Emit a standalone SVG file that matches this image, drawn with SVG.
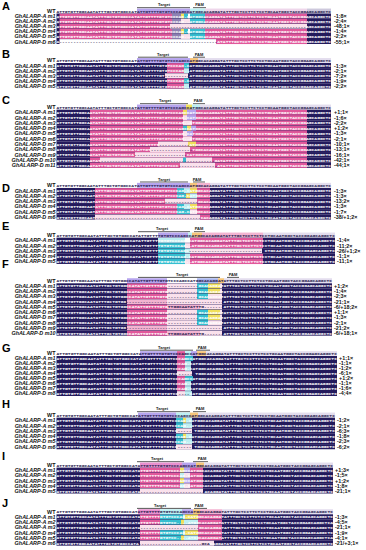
<svg xmlns="http://www.w3.org/2000/svg" width="366" height="550" viewBox="0 0 366 550">
<style>
.n{fill:#231a5c}.p{fill:#e1589b}.dl{fill:#fae1ec}.lp{fill:#f3b3d1}.v{fill:#b6a4ee}.v2{fill:#a9b6ee}.g{fill:#8e82b4}.c{fill:#35bfd0}.lc{fill:#bdeff2}.y{fill:#f1e05b}.pe{fill:#f6c57a}.wb{fill:#e3ddee}.wp{fill:#eed6ea}.wg{fill:#cdc8dc}.m{fill:#e98fcf}.w{fill:#fff}
.s{font-family:"Liberation Mono","DejaVu Sans Mono",monospace;font-weight:bold;font-size:4.3px;fill:#fff}
.k{fill:#2a2250}
.lb{font-family:"Liberation Sans",Arial,sans-serif;font-style:italic;font-weight:bold;font-size:5.4px;text-anchor:end;fill:#111}
.wt{font-family:"Liberation Sans",Arial,sans-serif;font-weight:bold;font-size:5.4px;text-anchor:end;fill:#111}
.r{font-family:"Liberation Sans",Arial,sans-serif;font-weight:bold;font-size:5.4px;fill:#111}
.pl{font-family:"Liberation Sans",Arial,sans-serif;font-weight:bold;font-size:11px;fill:#000}
.t{font-family:"Liberation Sans",Arial,sans-serif;font-weight:bold;font-size:4px;text-anchor:middle;fill:#222}
.ln{stroke:#444;stroke-width:0.9;fill:none}
</style>
<rect width="366" height="550" fill="#fff"/>

<g id="connectors">
<line class="ln" x1="137" y1="7.7" x2="190" y2="7.7"/><line class="ln" x1="193" y1="7.7" x2="206" y2="7.7"/>
<line class="ln" x1="138" y1="57.2" x2="188" y2="57.2"/><line class="ln" x1="193" y1="57.2" x2="205" y2="57.2"/>
<line class="ln" x1="140" y1="103.7" x2="188" y2="103.7"/><line class="ln" x1="193" y1="103.7" x2="205" y2="103.7"/>
<line class="ln" x1="140" y1="182" x2="188" y2="182"/><line class="ln" x1="193" y1="182" x2="205" y2="182"/>
<line class="ln" x1="138" y1="231.7" x2="190" y2="231.7"/><line class="ln" x1="194" y1="231.7" x2="205" y2="231.7"/>
<line class="ln" x1="138" y1="277.4" x2="220" y2="277.4"/><line class="ln" x1="227" y1="277.4" x2="239" y2="277.4"/>
<line class="ln" x1="140" y1="350.2" x2="193" y2="350.2"/><line class="ln" x1="196" y1="350.2" x2="210" y2="350.2"/>
<line class="ln" x1="137" y1="411.7" x2="190" y2="411.7"/><line class="ln" x1="193" y1="411.7" x2="206" y2="411.7"/>
<line class="ln" x1="137" y1="461.7" x2="184" y2="461.7"/><line class="ln" x1="193" y1="461.7" x2="208" y2="461.7"/>
<line class="ln" x1="137" y1="508.4" x2="191" y2="508.4"/><line class="ln" x1="194" y1="508.4" x2="207" y2="508.4"/>
</g>

<g id="labels-target">
<text class="t" x="164" y="6.4">Target</text><text class="t" x="199.5" y="6.4">PAM</text>
<text class="t" x="163" y="55.9">Target</text><text class="t" x="199" y="55.9">PAM</text>
<text class="t" x="165" y="102.4">Target</text><text class="t" x="198" y="102.4">PAM</text>
<text class="t" x="164" y="180.7">Target</text><text class="t" x="197" y="180.7">PAM</text>
<text class="t" x="162" y="230.4">Target</text><text class="t" x="199" y="230.4">PAM</text>
<text class="t" x="182" y="276.1">Target</text><text class="t" x="233" y="276.1">PAM</text>
<text class="t" x="164" y="348.9">Target</text><text class="t" x="202" y="348.9">PAM</text>
<text class="t" x="162" y="410.4">Target</text><text class="t" x="200" y="410.4">PAM</text>
<text class="t" x="157" y="460.4">Target</text><text class="t" x="202" y="460.4">PAM</text>
<text class="t" x="160" y="507.1">Target</text><text class="t" x="199" y="507.1">PAM</text>
</g>

<!-- Panel A -->
<g id="panelA">
<text class="pl" x="2" y="9.5">A</text>
<g id="A-WT"><text class="wt" x="55.5" y="12.9">WT</text>
<rect class="v" x="137" y="8.55" width="53" height="4.9"/><rect class="lc" x="190" y="8.55" width="15" height="4.9"/><rect class="wp" x="205" y="8.55" width="102" height="4.9"/><rect class="wg" x="307" y="8.55" width="24" height="4.9"/>
<text class="s k" x="56.5" y="12.5" textLength="274.5" lengthAdjust="spacingAndGlyphs">ATTGTGTTGGCAATATTTGCTGTGGCCATATTGTTTTGTGTCCCAGCCATGGCACAGGATATTTGCTCCTTCTCCTGCAATGGCTACCGGAGCAGGCTC</text></g>
<g id="A-m1"><text class="lb" x="55.5" y="18">GhALARP-A m1</text><rect class="n" x="56.5" y="13.5" width="274.5" height="5.2"/>
<rect class="p" x="59.5" y="13.65" width="112.5" height="4.9"/><rect class="g" x="172" y="13.65" width="9" height="4.9"/><rect class="y" x="181" y="13.65" width="3" height="4.9"/><rect class="c" x="184" y="13.65" width="4" height="4.9"/><rect class="w" x="188" y="13.65" width="2" height="4.9"/><rect class="c" x="190" y="13.65" width="15" height="4.9"/><rect class="p" x="205" y="13.65" width="102" height="4.9"/>
<text class="s" x="56.5" y="17.6" textLength="274.5" lengthAdjust="spacingAndGlyphs">ATTGTGTTGGCAATATTTGCTGTGGCCATATTGTTTTGTGTCCCAG-CATGGCACAGGATATTTGCTCCTTCTCCTGCAATGGCTACCGGAGCAGGCTC</text>
<text class="r" x="334" y="18">-1;8×</text></g>
<g id="A-m2"><text class="lb" x="55.5" y="23.1">GhALARP-A m2</text><rect class="n" x="56.5" y="18.6" width="274.5" height="5.2"/>
<rect class="p" x="59.5" y="18.75" width="112.5" height="4.9"/><rect class="g" x="172" y="18.75" width="9" height="4.9"/><rect class="dl" x="181" y="18.75" width="9" height="4.9"/><rect class="c" x="190" y="18.75" width="15" height="4.9"/><rect class="p" x="205" y="18.75" width="102" height="4.9"/>
<text class="s" x="56.5" y="22.7" textLength="274.5" lengthAdjust="spacingAndGlyphs">ATTGTGTTGGCAATATTTGCTGTGGCCATATTGTTTTGTGTCCCAG--ATGGCACAGGATATTTGCTCCTTCTCCTGCAATGGCTACCGGAGCAGGCTC</text>
<text class="r" x="334" y="23.1">-2;4×</text></g>
<g id="A-m3"><text class="lb" x="55.5" y="28.2">GhALARP-A m3</text><rect class="n" x="56.5" y="23.7" width="274.5" height="5.2"/>
<rect class="p" x="59.5" y="23.85" width="110.5" height="4.9"/><rect class="dl" x="170" y="23.85" width="137" height="4.9"/>
<text class="s" x="56.5" y="27.8" textLength="274.5" lengthAdjust="spacingAndGlyphs">ATTGTGTTGGCAATATTTGCTGTGGCCATATTGTTTTGTGT<tspan class="k">-------------------------------------------------</tspan>AGCAGGCTC</text>
<text class="r" x="334" y="28.2">-48;1×</text></g>
<g id="A-m4"><text class="lb" x="55.5" y="33.3">GhALARP-D m4</text><rect class="n" x="56.5" y="28.8" width="274.5" height="5.2"/>
<rect class="p" x="59.5" y="28.95" width="112.5" height="4.9"/><rect class="g" x="172" y="28.95" width="9" height="4.9"/><rect class="y" x="181" y="28.95" width="3" height="4.9"/><rect class="c" x="184" y="28.95" width="4" height="4.9"/><rect class="w" x="188" y="28.95" width="2" height="4.9"/><rect class="c" x="190" y="28.95" width="15" height="4.9"/><rect class="p" x="205" y="28.95" width="102" height="4.9"/>
<text class="s" x="56.5" y="32.9" textLength="274.5" lengthAdjust="spacingAndGlyphs">ATTGTGTTGGCAATATTTGCTGTGGCCATATTGTTTTGTGTCCCAG-CATGGCACAGGATATTTGCTCCTTCTCCTGCAATGGCTACCGGAGCAGGCTC</text>
<text class="r" x="334" y="33.3">-1;4×</text></g>
<g id="A-m5"><text class="lb" x="55.5" y="38.4">GhALARP-D m5</text><rect class="n" x="56.5" y="33.9" width="274.5" height="5.2"/>
<rect class="p" x="59.5" y="34.05" width="112.5" height="4.9"/><rect class="g" x="172" y="34.05" width="9" height="4.9"/><rect class="dl" x="181" y="34.05" width="9" height="4.9"/><rect class="c" x="190" y="34.05" width="15" height="4.9"/><rect class="p" x="205" y="34.05" width="102" height="4.9"/>
<text class="s" x="56.5" y="38" textLength="274.5" lengthAdjust="spacingAndGlyphs">ATTGTGTTGGCAATATTTGCTGTGGCCATATTGTTTTGTGTCCCAG--ATGGCACAGGATATTTGCTCCTTCTCCTGCAATGGCTACCGGAGCAGGCTC</text>
<text class="r" x="334" y="38.4">-2;2×</text></g>
<g id="A-m6"><text class="lb" x="55.5" y="43.5">GhALARP-D m6</text><rect class="n" x="56.5" y="39" width="274.5" height="5"/>
<rect class="w" x="59.5" y="39.15" width="156.5" height="4.9"/><rect class="p" x="216" y="39.15" width="91" height="4.9"/>
<text class="s" x="56.5" y="43.1" textLength="274.5" lengthAdjust="spacingAndGlyphs">A<tspan class="k">---------------------------------------------------------</tspan>ATATTTGCTCCTTCTCCTGCAATGGCTACCGGAGCAGGCTC</text>
<text class="r" x="334" y="43.5">-55;1×</text></g>
</g>

<!-- Panel B -->
<g id="panelB">
<text class="pl" x="2" y="57.5">B</text>
<g id="B-WT"><text class="wt" x="55.5" y="62.4">WT</text>
<rect class="v" x="137" y="58.05" width="53" height="4.9"/><rect class="pe" x="190" y="58.05" width="8" height="4.9"/><rect class="wb" x="198" y="58.05" width="133" height="4.9"/>
<text class="s k" x="56.5" y="62" textLength="274.5" lengthAdjust="spacingAndGlyphs">ATTGTGTTGGCAATATTTGCTGTGGCCATATTGTTTTGTGTCCCAGCCATGGCACAGGATATTTGCTCCTTCTCCTGCAATGGCTACCGGAGCAGGCTC</text></g>
<g id="B-m1"><text class="lb" x="55.5" y="67.5">GhALARP-A m1</text><rect class="n" x="56.5" y="63" width="274.5" height="5.2"/>
<rect class="p" x="167" y="63.15" width="17" height="4.9"/><rect class="c" x="184" y="63.15" width="5" height="4.9"/>
<text class="s" x="56.5" y="67.1" textLength="274.5" lengthAdjust="spacingAndGlyphs">ATTGTGTTGGCAATATTTGCTGTGGCCATATTGTTTTGTGTCCCAG-CATGGCACAGGATATTTGCTCCTTCTCCTGCAATGGCTACCGGAGCAGGCTC</text>
<text class="r" x="334" y="67.5">-1;3×</text></g>
<g id="B-m2"><text class="lb" x="55.5" y="72.6">GhALARP-A m2</text><rect class="n" x="56.5" y="68.1" width="274.5" height="5.2"/>
<rect class="p" x="167" y="68.25" width="17" height="4.9"/><rect class="lc" x="184" y="68.25" width="5" height="4.9"/>
<text class="s" x="56.5" y="72.2" textLength="274.5" lengthAdjust="spacingAndGlyphs">ATTGTGTTGGCAATATTTGCTGTGGCCATATTGTTTTGTGTCCCAG--ATGGCACAGGATATTTGCTCCTTCTCCTGCAATGGCTACCGGAGCAGGCTC</text>
<text class="r" x="334" y="72.6">-2;1×</text></g>
<g id="B-m3"><text class="lb" x="55.5" y="77.7">GhALARP-A m3</text><rect class="n" x="56.5" y="73.2" width="274.5" height="5.2"/>
<rect class="dl" x="165" y="73.35" width="23" height="4.9"/>
<text class="s" x="56.5" y="77.3" textLength="274.5" lengthAdjust="spacingAndGlyphs">ATTGTGTTGGCAATATTTGCTGTGGCCATATTGTTTTGT<tspan class="k">---------</tspan>ATGGCACAGGATATTTGCTCCTTCTCCTGCAATGGCTACCGGAGCAGGCTC</text>
<text class="r" x="334" y="77.7">-7;2×</text></g>
<g id="B-m4"><text class="lb" x="55.5" y="82.8">GhALARP-D m4</text><rect class="n" x="56.5" y="78.3" width="274.5" height="5.2"/>
<rect class="p" x="167" y="78.45" width="17" height="4.9"/><rect class="c" x="184" y="78.45" width="5" height="4.9"/>
<text class="s" x="56.5" y="82.4" textLength="274.5" lengthAdjust="spacingAndGlyphs">ATTGTGTTGGCAATATTTGCTGTGGCCATATTGTTTTGTGTCCCAG-CATGGCACAGGATATTTGCTCCTTCTCCTGCAATGGCTACCGGAGCAGGCTC</text>
<text class="r" x="334" y="82.8">-1;9×</text></g>
<g id="B-m5"><text class="lb" x="55.5" y="87.9">GhALARP-D m5</text><rect class="n" x="56.5" y="83.4" width="274.5" height="5.1"/>
<rect class="p" x="167" y="83.55" width="17" height="4.9"/><rect class="lc" x="184" y="83.55" width="5" height="4.9"/>
<text class="s" x="56.5" y="87.5" textLength="274.5" lengthAdjust="spacingAndGlyphs">ATTGTGTTGGCAATATTTGCTGTGGCCATATTGTTTTGTGTCCCAG--ATGGCACAGGATATTTGCTCCTTCTCCTGCAATGGCTACCGGAGCAGGCTC</text>
<text class="r" x="334" y="87.9">-2;2×</text></g>
</g>

<!-- Panel C -->
<g id="panelC">
<text class="pl" x="2" y="103.5">C</text>
<g id="C-WT"><text class="wt" x="55.5" y="108.9">WT</text>
<rect class="v" x="137" y="104.55" width="49" height="4.9"/><rect class="y" x="186" y="104.55" width="6" height="4.9"/><rect class="lc" x="192" y="104.55" width="8" height="4.9"/><rect class="wb" x="200" y="104.55" width="131" height="4.9"/>
<text class="s k" x="56.5" y="108.5" textLength="274.5" lengthAdjust="spacingAndGlyphs">ATTGTGTTGGCAATATTTGCTGTGGCCATATTGTTTTGTGTCCCAGCCATGGCACAGGATATTTGCTCCTTCTCCTGCAATGGCTACCGGAGCAGGCTC</text></g>
<g id="C-m1"><text class="lb" x="55.5" y="114.2">GhALARP-A m1</text><rect class="n" x="56.5" y="109.65" width="274.5" height="5.4"/>
<rect class="p" x="90" y="109.85" width="217" height="5"/><rect class="y" x="183" y="109.85" width="4" height="5"/><rect class="v" x="187" y="109.85" width="9" height="5"/>
<text class="s" x="56.5" y="113.8" textLength="274.5" lengthAdjust="spacingAndGlyphs">ATTGTGTTGGCAATATTTGCTGTGGCCATATTGTTTTGTGTCCCAGCCATGGCACAGGATATTTGCTCCTTCTCCTGCAATGGCTACCGGAGCAGGCTC</text>
<text class="r" x="334" y="114.2">+1;1×</text></g>
<g id="C-m2"><text class="lb" x="55.5" y="119.5">GhALARP-A m2</text><rect class="n" x="56.5" y="114.95" width="274.5" height="5.4"/>
<rect class="p" x="90" y="115.15" width="217" height="5"/><rect class="dl" x="183" y="115.15" width="4" height="5"/><rect class="v" x="187" y="115.15" width="9" height="5"/>
<text class="s" x="56.5" y="119.1" textLength="274.5" lengthAdjust="spacingAndGlyphs">ATTGTGTTGGCAATATTTGCTGTGGCCATATTGTTTTGTGTCCCAG-CATGGCACAGGATATTTGCTCCTTCTCCTGCAATGGCTACCGGAGCAGGCTC</text>
<text class="r" x="334" y="119.5">-1;6×</text></g>
<g id="C-m3"><text class="lb" x="55.5" y="124.8">GhALARP-A m3</text><rect class="n" x="56.5" y="120.25" width="274.5" height="5.4"/>
<rect class="p" x="90" y="120.45" width="217" height="5"/><rect class="dl" x="183" y="120.45" width="9" height="5"/>
<text class="s" x="56.5" y="124.4" textLength="274.5" lengthAdjust="spacingAndGlyphs">ATTGTGTTGGCAATATTTGCTGTGGCCATATTGTTTTGTGTCCCAG--ATGGCACAGGATATTTGCTCCTTCTCCTGCAATGGCTACCGGAGCAGGCTC</text>
<text class="r" x="334" y="124.8">-2;2×</text></g>
<g id="C-m4"><text class="lb" x="55.5" y="130.1">GhALARP-D m4</text><rect class="n" x="56.5" y="125.55" width="274.5" height="5.4"/>
<rect class="p" x="90" y="125.75" width="217" height="5"/><rect class="c" x="183" y="125.75" width="4" height="5"/><rect class="y" x="187" y="125.75" width="4" height="5"/><rect class="v" x="191" y="125.75" width="5" height="5"/>
<text class="s" x="56.5" y="129.7" textLength="274.5" lengthAdjust="spacingAndGlyphs">ATTGTGTTGGCAATATTTGCTGTGGCCATATTGTTTTGTGTCCCAGCCATGGCACAGGATATTTGCTCCTTCTCCTGCAATGGCTACCGGAGCAGGCTC</text>
<text class="r" x="334" y="130.1">+1;2×</text></g>
<g id="C-m5"><text class="lb" x="55.5" y="135.4">GhALARP-D m5</text><rect class="n" x="56.5" y="130.85" width="274.5" height="5.4"/>
<rect class="p" x="90" y="131.05" width="217" height="5"/><rect class="dl" x="183" y="131.05" width="4" height="5"/><rect class="v" x="187" y="131.05" width="6" height="5"/>
<text class="s" x="56.5" y="135" textLength="274.5" lengthAdjust="spacingAndGlyphs">ATTGTGTTGGCAATATTTGCTGTGGCCATATTGTTTTGTGTCCCAG-CATGGCACAGGATATTTGCTCCTTCTCCTGCAATGGCTACCGGAGCAGGCTC</text>
<text class="r" x="334" y="135.4">-1;3×</text></g>
<g id="C-m6"><text class="lb" x="55.5" y="140.7">GhALARP-D m6</text><rect class="n" x="56.5" y="136.15" width="274.5" height="5.4"/>
<rect class="p" x="90" y="136.35" width="217" height="5"/><rect class="dl" x="183" y="136.35" width="9" height="5"/>
<text class="s" x="56.5" y="140.3" textLength="274.5" lengthAdjust="spacingAndGlyphs">ATTGTGTTGGCAATATTTGCTGTGGCCATATTGTTTTGTGTCCCAG--ATGGCACAGGATATTTGCTCCTTCTCCTGCAATGGCTACCGGAGCAGGCTC</text>
<text class="r" x="334" y="140.7">-2;1×</text></g>
<g id="C-m7"><text class="lb" x="55.5" y="146">GhALARP-D m7</text><rect class="n" x="56.5" y="141.45" width="274.5" height="5.4"/>
<rect class="p" x="90" y="141.65" width="217" height="5"/><rect class="dl" x="158" y="141.65" width="30" height="5"/><rect class="y" x="188" y="141.65" width="8" height="5"/>
<text class="s" x="56.5" y="145.6" textLength="274.5" lengthAdjust="spacingAndGlyphs">ATTGTGTTGGCAATATTTGCTGTGGCCATATTGTTTT<tspan class="k">-----------</tspan>ATGGCACAGGATATTTGCTCCTTCTCCTGCAATGGCTACCGGAGCAGGCTC</text>
<text class="r" x="334" y="146">-10;1×</text></g>
<g id="C-m8"><text class="lb" x="55.5" y="151.3">GhALARP-D m8</text><rect class="n" x="56.5" y="146.75" width="274.5" height="5.4"/>
<rect class="p" x="90" y="146.95" width="217" height="5"/><rect class="dl" x="150" y="146.95" width="40" height="5"/>
<text class="s" x="56.5" y="150.9" textLength="274.5" lengthAdjust="spacingAndGlyphs">ATTGTGTTGGCAATATTTGCTGTGGCCATATTGT<tspan class="k">---------------</tspan>TGGCACAGGATATTTGCTCCTTCTCCTGCAATGGCTACCGGAGCAGGCTC</text>
<text class="r" x="334" y="151.3">-13;1×</text></g>
<g id="C-m9"><text class="lb" x="55.5" y="156.6">GhALARP-D m9</text><rect class="n" x="56.5" y="152.05" width="274.5" height="5.4"/>
<rect class="p" x="90" y="152.25" width="217" height="5"/><rect class="dl" x="135" y="152.25" width="50" height="5"/>
<text class="s" x="56.5" y="156.2" textLength="274.5" lengthAdjust="spacingAndGlyphs">ATTGTGTTGGCAATATTTGCTGTGGCCA<tspan class="k">-------------------</tspan>CATGGCACAGGATATTTGCTCCTTCTCCTGCAATGGCTACCGGAGCAGGCTC</text>
<text class="r" x="334" y="156.6">-16;1×</text></g>
<g id="C-m10"><text class="lb" x="55.5" y="161.9">GhALARP-D m10</text><rect class="n" x="56.5" y="157.35" width="274.5" height="5.4"/>
<rect class="p" x="90" y="157.55" width="217" height="5"/><rect class="dl" x="100" y="157.55" width="112" height="5"/><rect class="c" x="183" y="157.55" width="3" height="5"/>
<text class="s" x="56.5" y="161.5" textLength="274.5" lengthAdjust="spacingAndGlyphs">ATTGTGTTGGCAATAT<tspan class="k">-----------------------------------------</tspan>GATATTTGCTCCTTCTCCTGCAATGGCTACCGGAGCAGGCTC</text>
<text class="r" x="334" y="161.9">-42;1×</text></g>
<g id="C-m11"><text class="lb" x="55.5" y="167.2">GhALARP-D m11</text><rect class="n" x="56.5" y="162.65" width="274.5" height="5.2"/>
<rect class="p" x="90" y="162.85" width="217" height="5"/><rect class="dl" x="180" y="162.85" width="35" height="5"/>
<text class="s" x="56.5" y="166.8" textLength="274.5" lengthAdjust="spacingAndGlyphs">ATTGTGTTGGCAATATTTGCTGTGGCCATATTGTTTTGTGTCCC<tspan class="k">--------------</tspan>ATATTTGCTCCTTCTCCTGCAATGGCTACCGGAGCAGGCTC</text>
<text class="r" x="334" y="167.2">-44;1×</text></g>
</g>

<!-- Panel D -->
<g id="panelD">
<text class="pl" x="2" y="192">D</text>
<g id="D-WT"><text class="wt" x="55.5" y="187.2">WT</text>
<rect class="v" x="137" y="182.85" width="53" height="4.9"/><rect class="pe" x="190" y="182.85" width="7" height="4.9"/><rect class="lp" x="197" y="182.85" width="13" height="4.9"/><rect class="wb" x="210" y="182.85" width="121" height="4.9"/>
<text class="s k" x="56.5" y="186.8" textLength="274.5" lengthAdjust="spacingAndGlyphs">ATTGTGTTGGCAATATTTGCTGTGGCCATATTGTTTTGTGTCCCAGCCATGGCACAGGATATTTGCTCCTTCTCCTGCAATGGCTACCGGAGCAGGCTC</text></g>
<g id="D-m1"><text class="lb" x="55.5" y="192.5">GhALARP-A m1</text><rect class="n" x="56.5" y="187.95" width="274.5" height="5.4"/>
<rect class="p" x="95" y="188.15" width="115" height="5"/><rect class="c" x="177" y="188.15" width="7" height="5"/><rect class="lc" x="184" y="188.15" width="6" height="5"/><rect class="y" x="190" y="188.15" width="7" height="5"/>
<text class="s" x="56.5" y="192.1" textLength="274.5" lengthAdjust="spacingAndGlyphs">ATTGTGTTGGCAATATTTGCTGTGGCCATATTGTTTTGTGTCCCAG-CATGGCACAGGATATTTGCTCCTTCTCCTGCAATGGCTACCGGAGCAGGCTC</text>
<text class="r" x="334" y="192.5">-1;3×</text></g>
<g id="D-m2"><text class="lb" x="55.5" y="197.8">GhALARP-A m2</text><rect class="n" x="56.5" y="193.25" width="274.5" height="5.4"/>
<rect class="p" x="95" y="193.45" width="115" height="5"/><rect class="c" x="177" y="193.45" width="9" height="5"/><rect class="y" x="186" y="193.45" width="4" height="5"/><rect class="lc" x="190" y="193.45" width="7" height="5"/>
<text class="s" x="56.5" y="197.4" textLength="274.5" lengthAdjust="spacingAndGlyphs">ATTGTGTTGGCAATATTTGCTGTGGCCATATTGTTTTGTGTCCCAG-CATGGCACAGGATATTTGCTCCTTCTCCTGCAATGGCTACCGGAGCAGGCTC</text>
<text class="r" x="334" y="197.8">-1;3×</text></g>
<g id="D-m3"><text class="lb" x="55.5" y="203.1">GhALARP-A m3</text><rect class="n" x="56.5" y="198.55" width="274.5" height="5.4"/>
<rect class="p" x="95" y="198.75" width="70" height="5"/><rect class="dl" x="165" y="198.75" width="32" height="5"/><rect class="p" x="197" y="198.75" width="13" height="5"/>
<text class="s" x="56.5" y="202.7" textLength="274.5" lengthAdjust="spacingAndGlyphs">ATTGTGTTGGCAATATTTGCTGTGGCCATATTGTTTTGT<tspan class="k">------------</tspan>GCACAGGATATTTGCTCCTTCTCCTGCAATGGCTACCGGAGCAGGCTC</text>
<text class="r" x="334" y="203.1">-13;2×</text></g>
<g id="D-m4"><text class="lb" x="55.5" y="208.4">GhALARP-D m4</text><rect class="n" x="56.5" y="203.85" width="274.5" height="5.4"/>
<rect class="p" x="95" y="204.05" width="115" height="5"/><rect class="c" x="177" y="204.05" width="7" height="5"/><rect class="lc" x="184" y="204.05" width="6" height="5"/><rect class="y" x="190" y="204.05" width="7" height="5"/>
<text class="s" x="56.5" y="208" textLength="274.5" lengthAdjust="spacingAndGlyphs">ATTGTGTTGGCAATATTTGCTGTGGCCATATTGTTTTGTGTCCCAG-CATGGCACAGGATATTTGCTCCTTCTCCTGCAATGGCTACCGGAGCAGGCTC</text>
<text class="r" x="334" y="208.4">-1;3×</text></g>
<g id="D-m5"><text class="lb" x="55.5" y="213.7">GhALARP-D m5</text><rect class="n" x="56.5" y="209.15" width="274.5" height="5.4"/>
<rect class="p" x="95" y="209.35" width="115" height="5"/><rect class="c" x="177" y="209.35" width="13" height="5"/><rect class="dl" x="190" y="209.35" width="7" height="5"/>
<text class="s" x="56.5" y="213.3" textLength="274.5" lengthAdjust="spacingAndGlyphs">ATTGTGTTGGCAATATTTGCTGTGGCCATATTGTTTTGTGTCCCAG-CATGGCACAGGATATTTGCTCCTTCTCCTGCAATGGCTACCGGAGCAGGCTC</text>
<text class="r" x="334" y="213.7">-1;7×</text></g>
<g id="D-m6"><text class="lb" x="55.5" y="219">GhALARP-D m6</text><rect class="n" x="56.5" y="214.45" width="274.5" height="5.1"/>
<rect class="dl" x="95" y="214.65" width="105" height="5"/><rect class="p" x="200" y="214.65" width="10" height="5"/>
<text class="s" x="56.5" y="218.6" textLength="274.5" lengthAdjust="spacingAndGlyphs">ATTGTGTTGGCAAT<tspan class="k">--------------------------------------</tspan>CACAGGATATTTGCTCCTTCTCCTGCAATGGCTACCGGAGCAGGCTC</text>
<text class="r" x="334" y="219">-38/+1;2×</text></g>
</g>

<!-- Panel E -->
<g id="panelE">
<text class="pl" x="2" y="230">E</text>
<g id="E-WT"><text class="wt" x="55.5" y="236.9">WT</text>
<rect class="v" x="158" y="232.55" width="30" height="4.9"/><rect class="lc" x="188" y="232.55" width="4" height="4.9"/><rect class="pe" x="192" y="232.55" width="10" height="4.9"/><rect class="lp" x="202" y="232.55" width="61" height="4.9"/><rect class="wb" x="263" y="232.55" width="72" height="4.9"/>
<text class="s k" x="56.5" y="236.5" textLength="278.5" lengthAdjust="spacingAndGlyphs">ATTGTGTTGGCAATATTTGCTGTGGCCATATTGTTTTGTGTCCCAGCCATGGCACAGGATATTTGCTCCTTCTCCTGCAATGGCTACCGGAGCAGGCTC</text></g>
<g id="E-m1"><text class="lb" x="55.5" y="242.2">GhALARP-A m1</text><rect class="n" x="56.5" y="237.65" width="278.5" height="5.4"/>
<rect class="lc" x="158" y="237.85" width="27" height="5"/><rect class="w" x="185" y="237.85" width="5" height="5"/><rect class="p" x="190" y="237.85" width="73" height="5"/>
<text class="s" x="56.5" y="241.8" textLength="278.5" lengthAdjust="spacingAndGlyphs">ATTGTGTTGGCAATATTTGCTGTGGCCATATTGTTTTGTGTCCCAG-CATGGCACAGGATATTTGCTCCTTCTCCTGCAATGGCTACCGGAGCAGGCTC</text>
<text class="r" x="337" y="242.2">-1;4×</text></g>
<g id="E-m2"><text class="lb" x="55.5" y="247.5">GhALARP-A m2</text><rect class="n" x="56.5" y="242.95" width="278.5" height="5.4"/>
<rect class="c" x="158" y="243.15" width="27" height="5"/><rect class="dl" x="185" y="243.15" width="5" height="5"/><rect class="p" x="190" y="243.15" width="73" height="5"/>
<text class="s" x="56.5" y="247.1" textLength="278.5" lengthAdjust="spacingAndGlyphs">ATTGTGTTGGCAATATTTGCTGTGGCCATATTGTTTTGTGTCCCAG--ATGGCACAGGATATTTGCTCCTTCTCCTGCAATGGCTACCGGAGCAGGCTC</text>
<text class="r" x="337" y="247.5">-11;2×</text></g>
<g id="E-m3"><text class="lb" x="55.5" y="252.8">GhALARP-A m3</text><rect class="n" x="56.5" y="248.25" width="278.5" height="5.4"/>
<rect class="c" x="158" y="248.45" width="27" height="5"/><rect class="lc" x="185" y="248.45" width="5" height="5"/><rect class="dl" x="190" y="248.45" width="72" height="5"/>
<text class="s" x="56.5" y="252.4" textLength="278.5" lengthAdjust="spacingAndGlyphs">ATTGTGTTGGCAATATTTGCTGTGGCCATATTGTTTTGTGTCCCAGC<tspan class="k">---------------------------</tspan>CTGCAATGGCTACCGGAGCAGGCTC</text>
<text class="r" x="337" y="252.8">-26/+1;2×</text></g>
<g id="E-m4"><text class="lb" x="55.5" y="258.1">GhALARP-D m4</text><rect class="n" x="56.5" y="253.55" width="278.5" height="5.4"/>
<rect class="c" x="158" y="253.75" width="27" height="5"/><rect class="lc" x="185" y="253.75" width="5" height="5"/><rect class="p" x="190" y="253.75" width="73" height="5"/>
<text class="s" x="56.5" y="257.7" textLength="278.5" lengthAdjust="spacingAndGlyphs">ATTGTGTTGGCAATATTTGCTGTGGCCATATTGTTTTGTGTCCCAG-CATGGCACAGGATATTTGCTCCTTCTCCTGCAATGGCTACCGGAGCAGGCTC</text>
<text class="r" x="337" y="258.1">-1;1×</text></g>
<g id="E-m5"><text class="lb" x="55.5" y="263.4">GhALARP-D m5</text><rect class="n" x="56.5" y="258.85" width="278.5" height="5.1"/>
<rect class="c" x="158" y="259.05" width="27" height="5"/><rect class="dl" x="185" y="259.05" width="5" height="5"/><rect class="p" x="190" y="259.05" width="73" height="5"/>
<text class="s" x="56.5" y="263" textLength="278.5" lengthAdjust="spacingAndGlyphs">ATTGTGTTGGCAATATTTGCTGTGGCCATATTGTTTTGTGTCCCAG--ATGGCACAGGATATTTGCTCCTTCTCCTGCAATGGCTACCGGAGCAGGCTC</text>
<text class="r" x="337" y="263.4">-11;1×</text></g>
</g>

<!-- Panel F -->
<g id="panelF">
<text class="pl" x="2" y="268">F</text>
<g id="F-WT"><text class="wt" x="55.5" y="282.6">WT</text>
<rect class="v" x="127" y="278.25" width="40" height="4.9"/><rect class="v2" x="197" y="278.25" width="21" height="4.9"/><rect class="pe" x="218" y="278.25" width="6" height="4.9"/><rect class="wb" x="224" y="278.25" width="108" height="4.9"/>
<text class="s k" x="56.5" y="282.2" textLength="275.5" lengthAdjust="spacingAndGlyphs">ATTGTGTTGGCAATATTTGCTGTGGCCATATTGTTTTGTGTCCCAGCCATGGCACAGGATATTTGCTCCTTCTCCTGCAATGGCTACCGGAGCAGGCTC</text></g>
<g id="F-m1"><text class="lb" x="55.5" y="287.85">GhALARP-A m1</text><rect class="n" x="56.5" y="283.3" width="275.5" height="5.35"/>
<rect class="p" x="127" y="283.5" width="40" height="4.95"/><rect class="dl" x="167" y="283.5" width="30" height="4.95"/><rect class="c" x="197" y="283.5" width="11" height="4.95"/><rect class="y" x="208" y="283.5" width="12" height="4.95"/><rect class="dl" x="220" y="283.5" width="2" height="4.95"/>
<text class="s" x="56.5" y="287.45" textLength="275.5" lengthAdjust="spacingAndGlyphs">ATTGTGTTGGCAATATTTGCTGTGGCCATATTGTTTTGTG<tspan class="k">-----------</tspan>GCACAGGATATTTGCTCCTTCTCCTGCAATGGCTACCGGAGCAGGCTC</text>
<text class="r" x="334" y="287.85">+1;2×</text></g>
<g id="F-m2"><text class="lb" x="55.5" y="293.1">GhALARP-A m2</text><rect class="n" x="56.5" y="288.55" width="275.5" height="5.35"/>
<rect class="p" x="127" y="288.75" width="40" height="4.95"/><rect class="dl" x="167" y="288.75" width="30" height="4.95"/><rect class="c" x="197" y="288.75" width="11" height="4.95"/><rect class="y" x="208" y="288.75" width="12" height="4.95"/><rect class="dl" x="220" y="288.75" width="2" height="4.95"/>
<text class="s" x="56.5" y="292.7" textLength="275.5" lengthAdjust="spacingAndGlyphs">ATTGTGTTGGCAATATTTGCTGTGGCCATATTGTTTTGTG<tspan class="k">-----------</tspan>GCACAGGATATTTGCTCCTTCTCCTGCAATGGCTACCGGAGCAGGCTC</text>
<text class="r" x="334" y="293.1">-1;4×</text></g>
<g id="F-m3"><text class="lb" x="55.5" y="298.35">GhALARP-A m3</text><rect class="n" x="56.5" y="293.8" width="275.5" height="5.35"/>
<rect class="p" x="127" y="294" width="40" height="4.95"/><rect class="dl" x="167" y="294" width="30" height="4.95"/><rect class="c" x="197" y="294" width="11" height="4.95"/><rect class="dl" x="208" y="294" width="14" height="4.95"/>
<text class="s" x="56.5" y="297.95" textLength="275.5" lengthAdjust="spacingAndGlyphs">ATTGTGTTGGCAATATTTGCTGTGGCCATATTGTTTTGTG<tspan class="k">-----------</tspan>GCACAGGATATTTGCTCCTTCTCCTGCAATGGCTACCGGAGCAGGCTC</text>
<text class="r" x="334" y="298.35">-2;3×</text></g>
<g id="F-m4"><text class="lb" x="55.5" y="303.6">GhALARP-A m4</text><rect class="n" x="56.5" y="299.05" width="275.5" height="5.35"/>
<rect class="lp" x="127" y="299.25" width="40" height="4.95"/><rect class="dl" x="167" y="299.25" width="55" height="4.95"/>
<text class="s" x="56.5" y="303.2" textLength="275.5" lengthAdjust="spacingAndGlyphs">ATTGTGTTGGCAATATTTGCTGTGG<tspan class="k">-----------------------------------</tspan>ATTTGCTCCTTCTCCTGCAATGGCTACCGGAGCAGGCTC</text>
<text class="r" x="334" y="303.6">-21;1×</text></g>
<g id="F-m5"><text class="lb" x="55.5" y="308.85">GhALARP-A m5</text><rect class="n" x="56.5" y="304.3" width="275.5" height="5.35"/>
<rect class="p" x="127" y="304.5" width="40" height="4.95"/><rect class="lp" x="167" y="304.5" width="33" height="4.95"/><rect class="dl" x="200" y="304.5" width="22" height="4.95"/>
<text class="s" x="56.5" y="308.45" textLength="275.5" lengthAdjust="spacingAndGlyphs">ATTGTGTTGGCAATATTTGCTGTGGCCATATTGTTTTGTG<tspan class="k">TTGGCAATATTTG-------</tspan>ATTTGCTCCTTCTCCTGCAATGGCTACCGGAGCAGGCTC</text>
<text class="r" x="334" y="308.85">-6/+18;2×</text></g>
<g id="F-m6"><text class="lb" x="55.5" y="314.1">GhALARP-D m6</text><rect class="n" x="56.5" y="309.55" width="275.5" height="5.35"/>
<rect class="p" x="127" y="309.75" width="40" height="4.95"/><rect class="dl" x="167" y="309.75" width="30" height="4.95"/><rect class="c" x="197" y="309.75" width="11" height="4.95"/><rect class="y" x="208" y="309.75" width="12" height="4.95"/><rect class="dl" x="220" y="309.75" width="2" height="4.95"/>
<text class="s" x="56.5" y="313.7" textLength="275.5" lengthAdjust="spacingAndGlyphs">ATTGTGTTGGCAATATTTGCTGTGGCCATATTGTTTTGTG<tspan class="k">-----------</tspan>GCACAGGATATTTGCTCCTTCTCCTGCAATGGCTACCGGAGCAGGCTC</text>
<text class="r" x="334" y="314.1">+1;1×</text></g>
<g id="F-m7"><text class="lb" x="55.5" y="319.35">GhALARP-D m7</text><rect class="n" x="56.5" y="314.8" width="275.5" height="5.35"/>
<rect class="p" x="127" y="315" width="40" height="4.95"/><rect class="dl" x="167" y="315" width="30" height="4.95"/><rect class="c" x="197" y="315" width="11" height="4.95"/><rect class="y" x="208" y="315" width="12" height="4.95"/><rect class="dl" x="220" y="315" width="2" height="4.95"/>
<text class="s" x="56.5" y="318.95" textLength="275.5" lengthAdjust="spacingAndGlyphs">ATTGTGTTGGCAATATTTGCTGTGGCCATATTGTTTTGTG<tspan class="k">-----------</tspan>GCACAGGATATTTGCTCCTTCTCCTGCAATGGCTACCGGAGCAGGCTC</text>
<text class="r" x="334" y="319.35">-1;3×</text></g>
<g id="F-m8"><text class="lb" x="55.5" y="324.6">GhALARP-D m8</text><rect class="n" x="56.5" y="320.05" width="275.5" height="5.35"/>
<rect class="p" x="127" y="320.25" width="40" height="4.95"/><rect class="dl" x="167" y="320.25" width="30" height="4.95"/><rect class="c" x="197" y="320.25" width="11" height="4.95"/><rect class="dl" x="208" y="320.25" width="14" height="4.95"/>
<text class="s" x="56.5" y="324.2" textLength="275.5" lengthAdjust="spacingAndGlyphs">ATTGTGTTGGCAATATTTGCTGTGGCCATATTGTTTTGTG<tspan class="k">-----------</tspan>GCACAGGATATTTGCTCCTTCTCCTGCAATGGCTACCGGAGCAGGCTC</text>
<text class="r" x="334" y="324.6">-2;1×</text></g>
<g id="F-m9"><text class="lb" x="55.5" y="329.85">GhALARP-D m9</text><rect class="n" x="56.5" y="325.3" width="275.5" height="5.35"/>
<rect class="lp" x="127" y="325.5" width="40" height="4.95"/><rect class="dl" x="167" y="325.5" width="55" height="4.95"/>
<text class="s" x="56.5" y="329.45" textLength="275.5" lengthAdjust="spacingAndGlyphs">ATTGTGTTGGCAATATTTGCTGTGG<tspan class="k">-----------------------------------</tspan>ATTTGCTCCTTCTCCTGCAATGGCTACCGGAGCAGGCTC</text>
<text class="r" x="334" y="329.85">-21;2×</text></g>
<g id="F-m10"><text class="lb" x="55.5" y="335.1">GhALARP-D m10</text><rect class="n" x="56.5" y="330.55" width="275.5" height="5.1"/>
<rect class="p" x="127" y="330.75" width="40" height="4.95"/><rect class="lp" x="167" y="330.75" width="33" height="4.95"/><rect class="dl" x="200" y="330.75" width="22" height="4.95"/>
<text class="s" x="56.5" y="334.7" textLength="275.5" lengthAdjust="spacingAndGlyphs">ATTGTGTTGGCAATATTTGCTGTGGCCATATTGTTTTGTG<tspan class="k">TTGGCAATATTTG-------</tspan>ATTTGCTCCTTCTCCTGCAATGGCTACCGGAGCAGGCTC</text>
<text class="r" x="334" y="335.1">-6/+18;1×</text></g>
</g>

<!-- Panel G -->
<g id="panelG">
<text class="pl" x="2" y="352">G</text>
<g id="G-WT"><text class="wt" x="55.5" y="355.4">WT</text>
<rect class="v" x="140" y="351.15" width="37" height="4.7"/><rect class="p" x="177" y="351.15" width="8" height="4.7"/><rect class="lc" x="185" y="351.15" width="6" height="4.7"/><rect class="v" x="191" y="351.15" width="6" height="4.7"/><rect class="pe" x="197" y="351.15" width="9" height="4.7"/><rect class="wb" x="206" y="351.15" width="131" height="4.7"/>
<text class="s k" x="56.5" y="355" textLength="280.5" lengthAdjust="spacingAndGlyphs">ATTGTGTTGGCAATATTTGCTGTGGCCATATTGTTTTGTGTCCCAGCCATGGCACAGGATATTTGCTCCTTCTCCTGCAATGGCTACCGGAGCAGGCTC</text></g>
<g id="G-m1"><text class="lb" x="55.5" y="360.4">GhALARP-A m1</text><rect class="n" x="56.5" y="356" width="280.5" height="5.1"/>
<rect class="p" x="177" y="356.15" width="8" height="4.7"/><rect class="c" x="185" y="356.15" width="8" height="4.7"/>
<text class="s" x="56.5" y="360" textLength="280.5" lengthAdjust="spacingAndGlyphs">ATTGTGTTGGCAATATTTGCTGTGGCCATATTGTTTTGTGTCCCAGCCATGGCACAGGATATTTGCTCCTTCTCCTGCAATGGCTACCGGAGCAGGCTC</text>
<text class="r" x="339" y="360.4">+1;1×</text></g>
<g id="G-m2"><text class="lb" x="55.5" y="365.4">GhALARP-A m2</text><rect class="n" x="56.5" y="361" width="280.5" height="5.1"/>
<rect class="p" x="177" y="361.15" width="8" height="4.7"/><rect class="lc" x="185" y="361.15" width="6" height="4.7"/>
<text class="s" x="56.5" y="365" textLength="280.5" lengthAdjust="spacingAndGlyphs">ATTGTGTTGGCAATATTTGCTGTGGCCATATTGTTTTGTGTCCCAG-CATGGCACAGGATATTTGCTCCTTCTCCTGCAATGGCTACCGGAGCAGGCTC</text>
<text class="r" x="339" y="365.4">-1;1×</text></g>
<g id="G-m3"><text class="lb" x="55.5" y="370.4">GhALARP-A m3</text><rect class="n" x="56.5" y="366" width="280.5" height="5.1"/>
<rect class="p" x="177" y="366.15" width="8" height="4.7"/><rect class="lc" x="185" y="366.15" width="6" height="4.7"/>
<text class="s" x="56.5" y="370" textLength="280.5" lengthAdjust="spacingAndGlyphs">ATTGTGTTGGCAATATTTGCTGTGGCCATATTGTTTTGTGTCCCAG-CATGGCACAGGATATTTGCTCCTTCTCCTGCAATGGCTACCGGAGCAGGCTC</text>
<text class="r" x="339" y="370.4">-1;2×</text></g>
<g id="G-m4"><text class="lb" x="55.5" y="375.4">GhALARP-A m4</text><rect class="n" x="56.5" y="371" width="280.5" height="5.1"/>
<rect class="dl" x="177" y="371.15" width="15" height="4.7"/>
<text class="s" x="56.5" y="375" textLength="280.5" lengthAdjust="spacingAndGlyphs">ATTGTGTTGGCAATATTTGCTGTGGCCATATTGTTTTGTGTCC<tspan class="k">------</tspan>TGGCACAGGATATTTGCTCCTTCTCCTGCAATGGCTACCGGAGCAGGCTC</text>
<text class="r" x="339" y="375.4">-6;1×</text></g>
<g id="G-m5"><text class="lb" x="55.5" y="380.4">GhALARP-D m5</text><rect class="n" x="56.5" y="376" width="280.5" height="5.1"/>
<rect class="p" x="177" y="376.15" width="8" height="4.7"/><rect class="c" x="185" y="376.15" width="8" height="4.7"/>
<text class="s" x="56.5" y="380" textLength="280.5" lengthAdjust="spacingAndGlyphs">ATTGTGTTGGCAATATTTGCTGTGGCCATATTGTTTTGTGTCCCAGCCATGGCACAGGATATTTGCTCCTTCTCCTGCAATGGCTACCGGAGCAGGCTC</text>
<text class="r" x="339" y="380.4">+1;2×</text></g>
<g id="G-m6"><text class="lb" x="55.5" y="385.4">GhALARP-D m6</text><rect class="n" x="56.5" y="381" width="280.5" height="5.1"/>
<rect class="p" x="177" y="381.15" width="8" height="4.7"/><rect class="lc" x="185" y="381.15" width="6" height="4.7"/>
<text class="s" x="56.5" y="385" textLength="280.5" lengthAdjust="spacingAndGlyphs">ATTGTGTTGGCAATATTTGCTGTGGCCATATTGTTTTGTGTCCCAG-CATGGCACAGGATATTTGCTCCTTCTCCTGCAATGGCTACCGGAGCAGGCTC</text>
<text class="r" x="339" y="385.4">-1;1×</text></g>
<g id="G-m7"><text class="lb" x="55.5" y="390.4">GhALARP-D m7</text><rect class="n" x="56.5" y="386" width="280.5" height="5.1"/>
<rect class="p" x="177" y="386.15" width="8" height="4.7"/><rect class="lc" x="185" y="386.15" width="6" height="4.7"/>
<text class="s" x="56.5" y="390" textLength="280.5" lengthAdjust="spacingAndGlyphs">ATTGTGTTGGCAATATTTGCTGTGGCCATATTGTTTTGTGTCCCAG-CATGGCACAGGATATTTGCTCCTTCTCCTGCAATGGCTACCGGAGCAGGCTC</text>
<text class="r" x="339" y="390.4">-1;6×</text></g>
<g id="G-m8"><text class="lb" x="55.5" y="395.4">GhALARP-D m8</text><rect class="n" x="56.5" y="391" width="280.5" height="5"/>
<rect class="dl" x="177" y="391.15" width="8" height="4.7"/><rect class="lc" x="185" y="391.15" width="7" height="4.7"/>
<text class="s" x="56.5" y="395" textLength="280.5" lengthAdjust="spacingAndGlyphs">ATTGTGTTGGCAATATTTGCTGTGGCCATATTGTTTTGTGTCC<tspan class="k">----</tspan>CATGGCACAGGATATTTGCTCCTTCTCCTGCAATGGCTACCGGAGCAGGCTC</text>
<text class="r" x="339" y="395.4">-4;4×</text></g>
</g>

<!-- Panel H -->
<g id="panelH">
<text class="pl" x="2" y="408">H</text>
<g id="H-WT"><text class="wt" x="55.5" y="416.9">WT</text>
<rect class="v" x="138" y="412.55" width="38" height="4.9"/><rect class="lc" x="176" y="412.55" width="14" height="4.9"/><rect class="pe" x="190" y="412.55" width="8" height="4.9"/><rect class="wb" x="198" y="412.55" width="137" height="4.9"/>
<text class="s k" x="56.5" y="416.5" textLength="278.5" lengthAdjust="spacingAndGlyphs">ATTGTGTTGGCAATATTTGCTGTGGCCATATTGTTTTGTGTCCCAGCCATGGCACAGGATATTTGCTCCTTCTCCTGCAATGGCTACCGGAGCAGGCTC</text></g>
<g id="H-m1"><text class="lb" x="55.5" y="422.2">GhALARP-A m1</text><rect class="n" x="56.5" y="417.65" width="278.5" height="5.4"/>
<rect class="c" x="176" y="417.85" width="7" height="5"/><rect class="y" x="183" y="417.85" width="3" height="5"/><rect class="lc" x="186" y="417.85" width="6" height="5"/>
<text class="s" x="56.5" y="421.8" textLength="278.5" lengthAdjust="spacingAndGlyphs">ATTGTGTTGGCAATATTTGCTGTGGCCATATTGTTTTGTGTCCCAG-CATGGCACAGGATATTTGCTCCTTCTCCTGCAATGGCTACCGGAGCAGGCTC</text>
<text class="r" x="337" y="422.2">-1;2×</text></g>
<g id="H-m2"><text class="lb" x="55.5" y="427.5">GhALARP-A m2</text><rect class="n" x="56.5" y="422.95" width="278.5" height="5.4"/>
<rect class="c" x="176" y="423.15" width="7" height="5"/><rect class="lc" x="183" y="423.15" width="9" height="5"/>
<text class="s" x="56.5" y="427.1" textLength="278.5" lengthAdjust="spacingAndGlyphs">ATTGTGTTGGCAATATTTGCTGTGGCCATATTGTTTTGTGTCCCAG--ATGGCACAGGATATTTGCTCCTTCTCCTGCAATGGCTACCGGAGCAGGCTC</text>
<text class="r" x="337" y="427.5">-2;1×</text></g>
<g id="H-m3"><text class="lb" x="55.5" y="432.8">GhALARP-A m3</text><rect class="n" x="56.5" y="428.25" width="278.5" height="5.4"/>
<rect class="dl" x="176" y="428.45" width="16" height="5"/>
<text class="s" x="56.5" y="432.4" textLength="278.5" lengthAdjust="spacingAndGlyphs">ATTGTGTTGGCAATATTTGCTGTGGCCATATTGTTTTGTGTCC<tspan class="k">------</tspan>TGGCACAGGATATTTGCTCCTTCTCCTGCAATGGCTACCGGAGCAGGCTC</text>
<text class="r" x="337" y="432.8">-6;3×</text></g>
<g id="H-m4"><text class="lb" x="55.5" y="438.1">GhALARP-D m4</text><rect class="n" x="56.5" y="433.55" width="278.5" height="5.4"/>
<rect class="c" x="176" y="433.75" width="7" height="5"/><rect class="y" x="183" y="433.75" width="3" height="5"/><rect class="lc" x="186" y="433.75" width="6" height="5"/>
<text class="s" x="56.5" y="437.7" textLength="278.5" lengthAdjust="spacingAndGlyphs">ATTGTGTTGGCAATATTTGCTGTGGCCATATTGTTTTGTGTCCCAG-CATGGCACAGGATATTTGCTCCTTCTCCTGCAATGGCTACCGGAGCAGGCTC</text>
<text class="r" x="337" y="438.1">-1;8×</text></g>
<g id="H-m5"><text class="lb" x="55.5" y="443.4">GhALARP-D m5</text><rect class="n" x="56.5" y="438.85" width="278.5" height="5.4"/>
<rect class="c" x="176" y="439.05" width="7" height="5"/><rect class="lc" x="183" y="439.05" width="9" height="5"/>
<text class="s" x="56.5" y="443" textLength="278.5" lengthAdjust="spacingAndGlyphs">ATTGTGTTGGCAATATTTGCTGTGGCCATATTGTTTTGTGTCCCAG--ATGGCACAGGATATTTGCTCCTTCTCCTGCAATGGCTACCGGAGCAGGCTC</text>
<text class="r" x="337" y="443.4">-2;3×</text></g>
<g id="H-m6"><text class="lb" x="55.5" y="448.7">GhALARP-D m6</text><rect class="n" x="56.5" y="444.15" width="278.5" height="5.1"/>
<rect class="dl" x="176" y="444.35" width="16" height="5"/>
<text class="s" x="56.5" y="448.3" textLength="278.5" lengthAdjust="spacingAndGlyphs">ATTGTGTTGGCAATATTTGCTGTGGCCATATTGTTTTGTGTCC<tspan class="k">------</tspan>TGGCACAGGATATTTGCTCCTTCTCCTGCAATGGCTACCGGAGCAGGCTC</text>
<text class="r" x="337" y="448.7">-6;2×</text></g>
</g>

<!-- Panel I -->
<g id="panelI">
<text class="pl" x="2" y="460">I</text>
<g id="I-WT"><text class="wt" x="55.5" y="466.9">WT</text>
<rect class="m" x="140" y="462.55" width="42" height="4.9"/><rect class="v" x="182" y="462.55" width="14" height="4.9"/><rect class="pe" x="196" y="462.55" width="8" height="4.9"/><rect class="wb" x="204" y="462.55" width="129" height="4.9"/>
<text class="s k" x="56.5" y="466.5" textLength="276.5" lengthAdjust="spacingAndGlyphs">ATTGTGTTGGCAATATTTGCTGTGGCCATATTGTTTTGTGTCCCAGCCATGGCACAGGATATTTGCTCCTTCTCCTGCAATGGCTACCGGAGCAGGCTC</text></g>
<g id="I-m1"><text class="lb" x="55.5" y="472.1">GhALARP-A m1</text><rect class="n" x="56.5" y="467.6" width="276.5" height="5.3"/>
<rect class="p" x="140" y="467.75" width="40" height="4.9"/><rect class="y" x="180" y="467.75" width="4" height="4.9"/><rect class="v" x="184" y="467.75" width="6" height="4.9"/><rect class="p" x="190" y="467.75" width="13" height="4.9"/>
<text class="s" x="56.5" y="471.7" textLength="276.5" lengthAdjust="spacingAndGlyphs">ATTGTGTTGGCAATATTTGCTGTGGCCATATTGTTTTGTGTCCCAGCCATGGCACAGGATATTTGCTCCTTCTCCTGCAATGGCTACCGGAGCAGGCTC</text>
<text class="r" x="335" y="472.1">+1;3×</text></g>
<g id="I-m2"><text class="lb" x="55.5" y="477.3">GhALARP-A m2</text><rect class="n" x="56.5" y="472.8" width="276.5" height="5.3"/>
<rect class="p" x="140" y="472.95" width="40" height="4.9"/><rect class="lc" x="180" y="472.95" width="4" height="4.9"/><rect class="dl" x="184" y="472.95" width="6" height="4.9"/><rect class="p" x="190" y="472.95" width="13" height="4.9"/>
<text class="s" x="56.5" y="476.9" textLength="276.5" lengthAdjust="spacingAndGlyphs">ATTGTGTTGGCAATATTTGCTGTGGCCATATTGTTTTGTGTCCCAG-CATGGCACAGGATATTTGCTCCTTCTCCTGCAATGGCTACCGGAGCAGGCTC</text>
<text class="r" x="335" y="477.3">-1;5×</text></g>
<g id="I-m3"><text class="lb" x="55.5" y="482.5">GhALARP-D m3</text><rect class="n" x="56.5" y="478" width="276.5" height="5.3"/>
<rect class="p" x="140" y="478.15" width="40" height="4.9"/><rect class="y" x="180" y="478.15" width="4" height="4.9"/><rect class="v" x="184" y="478.15" width="6" height="4.9"/><rect class="p" x="190" y="478.15" width="13" height="4.9"/>
<text class="s" x="56.5" y="482.1" textLength="276.5" lengthAdjust="spacingAndGlyphs">ATTGTGTTGGCAATATTTGCTGTGGCCATATTGTTTTGTGTCCCAGCCATGGCACAGGATATTTGCTCCTTCTCCTGCAATGGCTACCGGAGCAGGCTC</text>
<text class="r" x="335" y="482.5">+1;2×</text></g>
<g id="I-m4"><text class="lb" x="55.5" y="487.7">GhALARP-D m4</text><rect class="n" x="56.5" y="483.2" width="276.5" height="5.3"/>
<rect class="p" x="140" y="483.35" width="40" height="4.9"/><rect class="lc" x="180" y="483.35" width="4" height="4.9"/><rect class="dl" x="184" y="483.35" width="6" height="4.9"/><rect class="p" x="190" y="483.35" width="13" height="4.9"/>
<text class="s" x="56.5" y="487.3" textLength="276.5" lengthAdjust="spacingAndGlyphs">ATTGTGTTGGCAATATTTGCTGTGGCCATATTGTTTTGTGTCCCAG-CATGGCACAGGATATTTGCTCCTTCTCCTGCAATGGCTACCGGAGCAGGCTC</text>
<text class="r" x="335" y="487.7">-1;8×</text></g>
<g id="I-m5"><text class="lb" x="55.5" y="492.9">GhALARP-D m5</text><rect class="n" x="56.5" y="488.4" width="276.5" height="5.1"/>
<rect class="dl" x="140" y="488.55" width="63" height="4.9"/>
<text class="s" x="56.5" y="492.5" textLength="276.5" lengthAdjust="spacingAndGlyphs">ATTGTGTTGGCAATATTTGCTGTGGCCATA<tspan class="k">-----------------------</tspan>ACAGGATATTTGCTCCTTCTCCTGCAATGGCTACCGGAGCAGGCTC</text>
<text class="r" x="335" y="492.9">-21;1×</text></g>
</g>

<!-- Panel J -->
<g id="panelJ">
<text class="pl" x="2" y="507">J</text>
<g id="J-WT"><text class="wt" x="55.5" y="513.6">WT</text>
<rect class="m" x="138" y="509.25" width="22" height="4.9"/><rect class="lc" x="160" y="509.25" width="22" height="4.9"/><rect class="v" x="182" y="509.25" width="11" height="4.9"/><rect class="pe" x="193" y="509.25" width="7" height="4.9"/><rect class="lp" x="200" y="509.25" width="22" height="4.9"/><rect class="wb" x="222" y="509.25" width="111" height="4.9"/>
<text class="s k" x="56.5" y="513.2" textLength="276.5" lengthAdjust="spacingAndGlyphs">ATTGTGTTGGCAATATTTGCTGTGGCCATATTGTTTTGTGTCCCAGCCATGGCACAGGATATTTGCTCCTTCTCCTGCAATGGCTACCGGAGCAGGCTC</text></g>
<g id="J-m1"><text class="lb" x="55.5" y="518.85">GhALARP-A m1</text><rect class="n" x="56.5" y="514.3" width="276.5" height="5.35"/>
<rect class="p" x="140" y="514.5" width="20" height="4.95"/><rect class="c" x="160" y="514.5" width="23" height="4.95"/><rect class="lc" x="183" y="514.5" width="2" height="4.95"/><rect class="y" x="185" y="514.5" width="13" height="4.95"/><rect class="p" x="198" y="514.5" width="24" height="4.95"/>
<text class="s" x="56.5" y="518.45" textLength="276.5" lengthAdjust="spacingAndGlyphs">ATTGTGTTGGCAATATTTGCTGTGGCCATATTGTTTTGTGTCCCAG-CATGGCACAGGATATTTGCTCCTTCTCCTGCAATGGCTACCGGAGCAGGCTC</text>
<text class="r" x="335" y="518.85">-1;3×</text></g>
<g id="J-m2"><text class="lb" x="55.5" y="524.1">GhALARP-A m2</text><rect class="n" x="56.5" y="519.55" width="276.5" height="5.35"/>
<rect class="p" x="140" y="519.75" width="20" height="4.95"/><rect class="c" x="160" y="519.75" width="21" height="4.95"/><rect class="y" x="181" y="519.75" width="3" height="4.95"/><rect class="lc" x="184" y="519.75" width="14" height="4.95"/><rect class="p" x="198" y="519.75" width="24" height="4.95"/>
<text class="s" x="56.5" y="523.7" textLength="276.5" lengthAdjust="spacingAndGlyphs">ATTGTGTTGGCAATATTTGCTGTGGCCATATTGTTTTGTGTCC----ATGGCACAGGATATTTGCTCCTTCTCCTGCAATGGCTACCGGAGCAGGCTCA</text>
<text class="r" x="335" y="524.1">-4;5×</text></g>
<g id="J-m3"><text class="lb" x="55.5" y="529.35">GhALARP-A m3</text><rect class="n" x="56.5" y="524.8" width="276.5" height="5.35"/>
<rect class="dl" x="140" y="525" width="58" height="4.95"/><rect class="p" x="198" y="525" width="24" height="4.95"/>
<text class="s" x="56.5" y="528.95" textLength="276.5" lengthAdjust="spacingAndGlyphs">ATTGTGTTGGCAATATTTGCTGTGGCCATA<tspan class="k">---------------------</tspan>GCACAGGATATTTGCTCCTTCTCCTGCAATGGCTACCGGAGCAGGCTC</text>
<text class="r" x="335" y="529.35">-21;1×</text></g>
<g id="J-m4"><text class="lb" x="55.5" y="534.6">GhALARP-D m4</text><rect class="n" x="56.5" y="530.05" width="276.5" height="5.35"/>
<rect class="p" x="140" y="530.25" width="20" height="4.95"/><rect class="c" x="160" y="530.25" width="23" height="4.95"/><rect class="lc" x="183" y="530.25" width="2" height="4.95"/><rect class="y" x="185" y="530.25" width="13" height="4.95"/><rect class="p" x="198" y="530.25" width="24" height="4.95"/>
<text class="s" x="56.5" y="534.2" textLength="276.5" lengthAdjust="spacingAndGlyphs">ATTGTGTTGGCAATATTTGCTGTGGCCATATTGTTTTGTGTCCCAG-CATGGCACAGGATATTTGCTCCTTCTCCTGCAATGGCTACCGGAGCAGGCTC</text>
<text class="r" x="335" y="534.6">-1;9×</text></g>
<g id="J-m5"><text class="lb" x="55.5" y="539.85">GhALARP-D m5</text><rect class="n" x="56.5" y="535.3" width="276.5" height="5.35"/>
<rect class="p" x="140" y="535.5" width="20" height="4.95"/><rect class="c" x="160" y="535.5" width="21" height="4.95"/><rect class="y" x="181" y="535.5" width="3" height="4.95"/><rect class="lc" x="184" y="535.5" width="14" height="4.95"/><rect class="p" x="198" y="535.5" width="24" height="4.95"/>
<text class="s" x="56.5" y="539.45" textLength="276.5" lengthAdjust="spacingAndGlyphs">ATTGTGTTGGCAATATTTGCTGTGGCCATATTGTTTTGTGTCC----ATGGCACAGGATATTTGCTCCTTCTCCTGCAATGGCTACCGGAGCAGGCTCA</text>
<text class="r" x="335" y="539.85">-4;1×</text></g>
<g id="J-m6"><text class="lb" x="55.5" y="545.1">GhALARP-D m6</text><rect class="n" x="56.5" y="540.55" width="276.5" height="5.1"/>
<rect class="dl" x="140" y="540.75" width="74" height="4.95"/>
<text class="s" x="56.5" y="544.7" textLength="276.5" lengthAdjust="spacingAndGlyphs">ATTGTGTTGGCAATATTTGCTGTGGCCATA<tspan class="k">-----------------------GCA</tspan>CAGGATATTTGCTCCTTCTCCTGCAATGGCTACCGGAGCAGGCTC</text>
<text class="r" x="335" y="545.1">-21/+3;1×</text></g>
</g>
</svg>
